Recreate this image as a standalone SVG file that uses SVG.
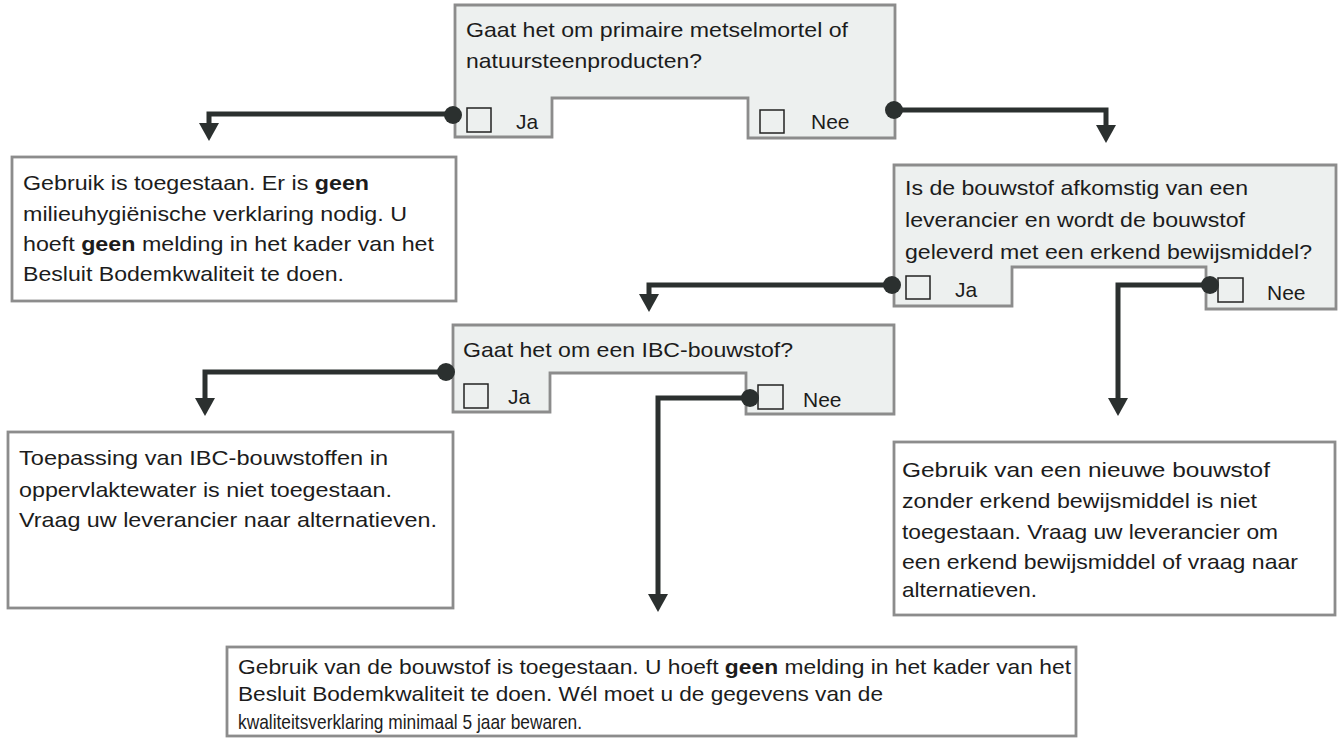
<svg xmlns="http://www.w3.org/2000/svg" width="1341" height="738" viewBox="0 0 1341 738">
<style>
.q{fill:#edf0ef;stroke:#8c8c8c;stroke-width:2.8}
.r{fill:#ffffff;stroke:#8c8c8c;stroke-width:2.8}
.cb{fill:#edf0ef;stroke:#222;stroke-width:1.5}
.t{font-family:"Liberation Sans",Arial,sans-serif;font-size:21px;fill:#1c1c1c}
.b{font-weight:bold}
.c{fill:none;stroke:#2b302f;stroke-width:5}
.dot{fill:#2b302f}
</style>
<defs>
<marker id="ah" viewBox="0 0 18 20" refX="0" refY="10" markerWidth="18" markerHeight="20" markerUnits="userSpaceOnUse" orient="auto">
<path d="M0,0 L18,10 L0,20 z" fill="#2b302f"/>
</marker>
</defs>
<rect width="1341" height="738" fill="#ffffff"/>

<g id="q1">
<polygon class="q" points="455,5 895,5 895,138 748,138 748,98 552,98 552,137 455,137"/>
<text class="t" x="466" y="37" textLength="382" lengthAdjust="spacingAndGlyphs">Gaat het om primaire metselmortel of</text>
<text class="t" x="466" y="68" textLength="236" lengthAdjust="spacingAndGlyphs">natuursteenproducten?</text>
<rect class="cb" x="467" y="108" width="24" height="24"/>
<text class="t" x="516" y="129">Ja</text>
<rect class="cb" x="760" y="110" width="24" height="23"/>
<text class="t" x="811" y="129">Nee</text>
</g>

<g id="r1">
<rect class="r" x="12" y="157" width="444" height="144"/>
<text class="t" x="23" y="190" textLength="346" lengthAdjust="spacingAndGlyphs">Gebruik is toegestaan. Er is <tspan class="b">geen</tspan></text>
<text class="t" x="23" y="221" textLength="384" lengthAdjust="spacingAndGlyphs">milieuhygiënische verklaring nodig. U</text>
<text class="t" x="23" y="251" textLength="411" lengthAdjust="spacingAndGlyphs">hoeft <tspan class="b">geen</tspan> melding in het kader van het</text>
<text class="t" x="23" y="281" textLength="321" lengthAdjust="spacingAndGlyphs">Besluit Bodemkwaliteit te doen.</text>
</g>

<g id="q2">
<polygon class="q" points="894,165 1336,165 1336,309 1206,309 1206,267 1012,267 1012,306 894,306"/>
<text class="t" x="905" y="195" textLength="343" lengthAdjust="spacingAndGlyphs">Is de bouwstof afkomstig van een</text>
<text class="t" x="905" y="227" textLength="340" lengthAdjust="spacingAndGlyphs">leverancier en wordt de bouwstof</text>
<text class="t" x="905" y="259" textLength="407" lengthAdjust="spacingAndGlyphs">geleverd met een erkend bewijsmiddel?</text>
<rect class="cb" x="906" y="276" width="24" height="23"/>
<text class="t" x="955" y="297">Ja</text>
<rect class="cb" x="1218" y="278" width="25" height="24"/>
<text class="t" x="1267" y="300">Nee</text>
</g>

<g id="q3">
<polygon class="q" points="453,325 894,325 894,414 746,414 746,373 550,373 550,412 453,412"/>
<text class="t" x="463" y="357" textLength="330" lengthAdjust="spacingAndGlyphs">Gaat het om een IBC-bouwstof?</text>
<rect class="cb" x="464" y="384" width="24" height="24"/>
<text class="t" x="508" y="404">Ja</text>
<rect class="cb" x="758" y="385" width="25" height="24"/>
<text class="t" x="803" y="407">Nee</text>
</g>

<g id="r2">
<rect class="r" x="8" y="432" width="445" height="176"/>
<text class="t" x="19" y="465" textLength="369" lengthAdjust="spacingAndGlyphs">Toepassing van IBC-bouwstoffen in</text>
<text class="t" x="19" y="497" textLength="373" lengthAdjust="spacingAndGlyphs">oppervlaktewater is niet toegestaan.</text>
<text class="t" x="19" y="527" textLength="418" lengthAdjust="spacingAndGlyphs">Vraag uw leverancier naar alternatieven.</text>
</g>

<g id="r3">
<rect class="r" x="894" y="442" width="441" height="173"/>
<text class="t" x="902" y="477" textLength="368" lengthAdjust="spacingAndGlyphs">Gebruik van een nieuwe bouwstof</text>
<text class="t" x="902" y="508" textLength="355" lengthAdjust="spacingAndGlyphs">zonder erkend bewijsmiddel is niet</text>
<text class="t" x="902" y="539" textLength="376" lengthAdjust="spacingAndGlyphs">toegestaan. Vraag uw leverancier om</text>
<text class="t" x="902" y="569" textLength="396" lengthAdjust="spacingAndGlyphs">een erkend bewijsmiddel of vraag naar</text>
<text class="t" x="902" y="597" textLength="135" lengthAdjust="spacingAndGlyphs">alternatieven.</text>
</g>

<g id="r4">
<rect class="r" x="227" y="647" width="849" height="89"/>
<text class="t" x="238" y="674" textLength="833" lengthAdjust="spacingAndGlyphs">Gebruik van de bouwstof is toegestaan. U hoeft <tspan class="b">geen</tspan> melding in het kader van het</text>
<text class="t" x="238" y="701" textLength="645" lengthAdjust="spacingAndGlyphs">Besluit Bodemkwaliteit te doen. Wél moet u de gegevens van de</text>
<text class="t" x="238" y="729" textLength="344" lengthAdjust="spacingAndGlyphs">kwaliteitsverklaring minimaal 5 jaar bewaren.</text>
</g>

<g id="connectors">
<path class="c" d="M453,114 H209 V123" marker-end="url(#ah)"/>
<circle class="dot" cx="453" cy="115" r="9"/>
<path class="c" d="M894,110 H1106 V125" marker-end="url(#ah)"/>
<circle class="dot" cx="894" cy="110" r="9"/>
<path class="c" d="M892,285 H649 V294" marker-end="url(#ah)"/>
<circle class="dot" cx="892" cy="285" r="9"/>
<path class="c" d="M1210,285 H1118 V398" marker-end="url(#ah)"/>
<circle class="dot" cx="1210" cy="285" r="9"/>
<path class="c" d="M446,372 H205 V398" marker-end="url(#ah)"/>
<circle class="dot" cx="446" cy="372" r="9"/>
<path class="c" d="M750,398 H658 V594" marker-end="url(#ah)"/>
<circle class="dot" cx="750" cy="398" r="9"/>
</g>
</svg>
